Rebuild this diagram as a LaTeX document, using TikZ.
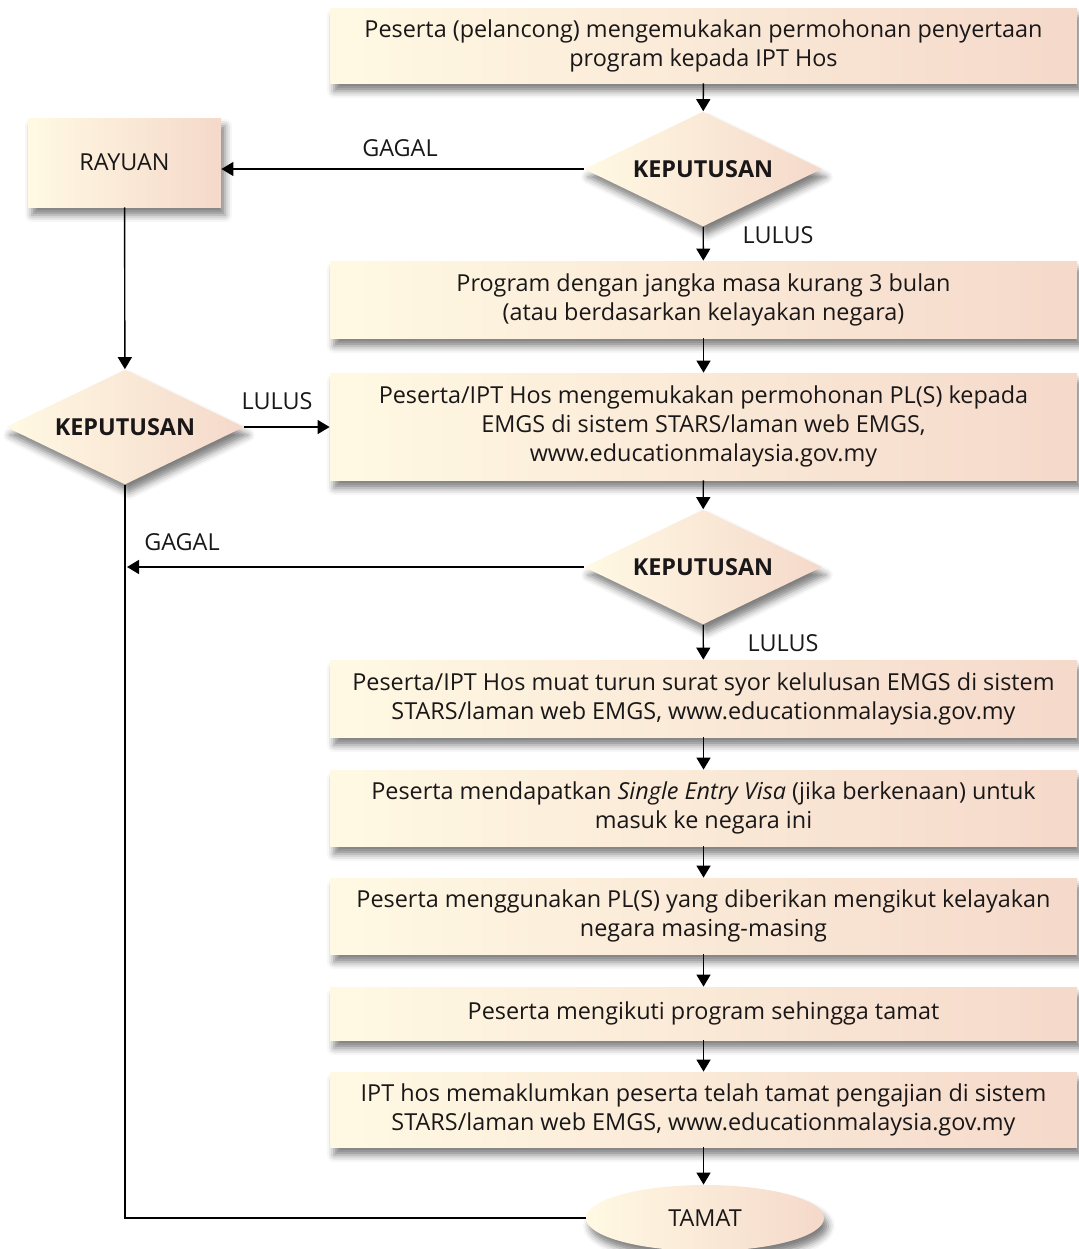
\documentclass[tikz,border=0pt]{standalone}
\usepackage{fontspec}
\setmainfont{Open Sans}
\usetikzlibrary{shapes.geometric,arrows.meta,shadows.blur}

\definecolor{fillL}{HTML}{FFF9E3}
\definecolor{fillR}{HTML}{F5D9CA}
\definecolor{inkC}{HTML}{1A1718}

\begin{document}
\begin{tikzpicture}[x=0.5pt,y=-0.5pt]
		\fontsize{11.7}{14.5}\selectfont
		\tikzstyle{shade_fill} = [left color=fillL, right color=fillR, text=inkC, blur shadow={shadow xshift=2pt, shadow yshift=-4pt, shadow blur radius=3.5pt, shadow opacity=50}];
		\tikzstyle{proc_block} = [shade_fill, rectangle, minimum width=373.5pt, inner sep=2pt, align=center];
		\tikzstyle{dec_block} = [shade_fill, diamond, aspect=2.07, minimum width=119pt, minimum height=57.5pt, inner sep=0pt, font=\bfseries];
		\tikzstyle{end_block} = [shade_fill, ellipse, minimum width=119pt, minimum height=33pt, inner sep=0pt];
		\tikzstyle{lbl} = [text=inkC, inner sep=1pt];
		\tikzstyle{conn} = [line width=0.7pt, draw=black, -{Triangle[length=6pt,width=7pt]}];

		\useasboundingbox (0,0) rectangle (1079,1249);

		\node[proc_block, minimum height=37.5pt] (mohon) at (703.5,45.5) {Peserta (pelancong) mengemukakan permohonan penyertaan\\program kepada IPT Hos};
		\node[dec_block] (kep1) at (703,169) {KEPUTUSAN};
		\node[proc_block, minimum width=96.5pt, minimum height=44.5pt] (rayuan) at (124.5,162.5) {RAYUAN};

		\node[proc_block, minimum height=38.5pt] (jangka) at (703.5,299.5) {Program dengan jangka masa kurang 3 bulan\\(atau berdasarkan kelayakan negara)};
		\node[dec_block] (kep2) at (125,427) {KEPUTUSAN};
		\node[proc_block, minimum height=53.5pt] (plsmohon) at (703.5,426.5) {Peserta/IPT Hos mengemukakan permohonan PL(S) kepada\\EMGS di sistem STARS/laman web EMGS,\\www.educationmalaysia.gov.my};

		\node[dec_block] (kep3) at (703,567) {KEPUTUSAN};
		\node[proc_block, minimum height=38.5pt] (surat) at (703.5,698.5) {Peserta/IPT Hos muat turun surat syor kelulusan EMGS di sistem\\STARS/laman web EMGS, www.educationmalaysia.gov.my};
		\node[proc_block, minimum height=38pt] (visa) at (703.5,808) {Peserta mendapatkan \textit{Single Entry Visa} (jika berkenaan) untuk\\masuk ke negara ini};
		\node[proc_block, minimum height=38pt] (guna) at (703.5,916) {Peserta menggunakan PL(S) yang diberikan mengikut kelayakan\\negara masing-masing};
		\node[proc_block, minimum height=26.5pt] (ikut) at (703.5,1013.5) {Peserta mengikuti program sehingga tamat};
		\node[proc_block, minimum height=37.5pt] (maklum) at (703.5,1109.5) {IPT hos memaklumkan peserta telah tamat pengajian di sistem\\STARS/laman web EMGS, www.educationmalaysia.gov.my};
		\node[end_block] (tamat) at (705,1218) {TAMAT};

		\node[lbl] (gagal1) at (400,148) {GAGAL};
		\node[lbl] (lulus1) at (778,235) {LULUS};
		\node[lbl] (lulus2) at (277,401) {LULUS};
		\node[lbl] (gagal2) at (182,542) {GAGAL};
		\node[lbl] (lulus3) at (783,643) {LULUS};

		\coordinate (balik) at ([xshift=1pt]kep2.south |- kep3.west);

		\draw[conn] (mohon) -- (kep1);
		\draw[conn] (kep1.west) -- (kep1.west -| rayuan.east);
		\draw[conn] (kep1) -- (jangka);
		\draw[conn] (rayuan) -- (kep2);
		\draw[conn] (kep2) -- (kep2 -| plsmohon.west);
		\draw[conn] (jangka) -- (plsmohon);
		\draw[conn] (plsmohon) -- (kep3);
		\draw[conn] (kep3) -- (balik);
		\draw[conn] (kep3) -- (surat);
		\draw[conn] (surat) -- (visa);
		\draw[conn] (visa) -- (guna);
		\draw[conn] (guna) -- (ikut);
		\draw[conn] (ikut) -- (maklum);
		\draw[conn] (maklum) -- (maklum |- tamat.north);
		\draw[line width=0.7pt] (kep2.south) |- (tamat.west);
	\end{tikzpicture}
\end{document}
